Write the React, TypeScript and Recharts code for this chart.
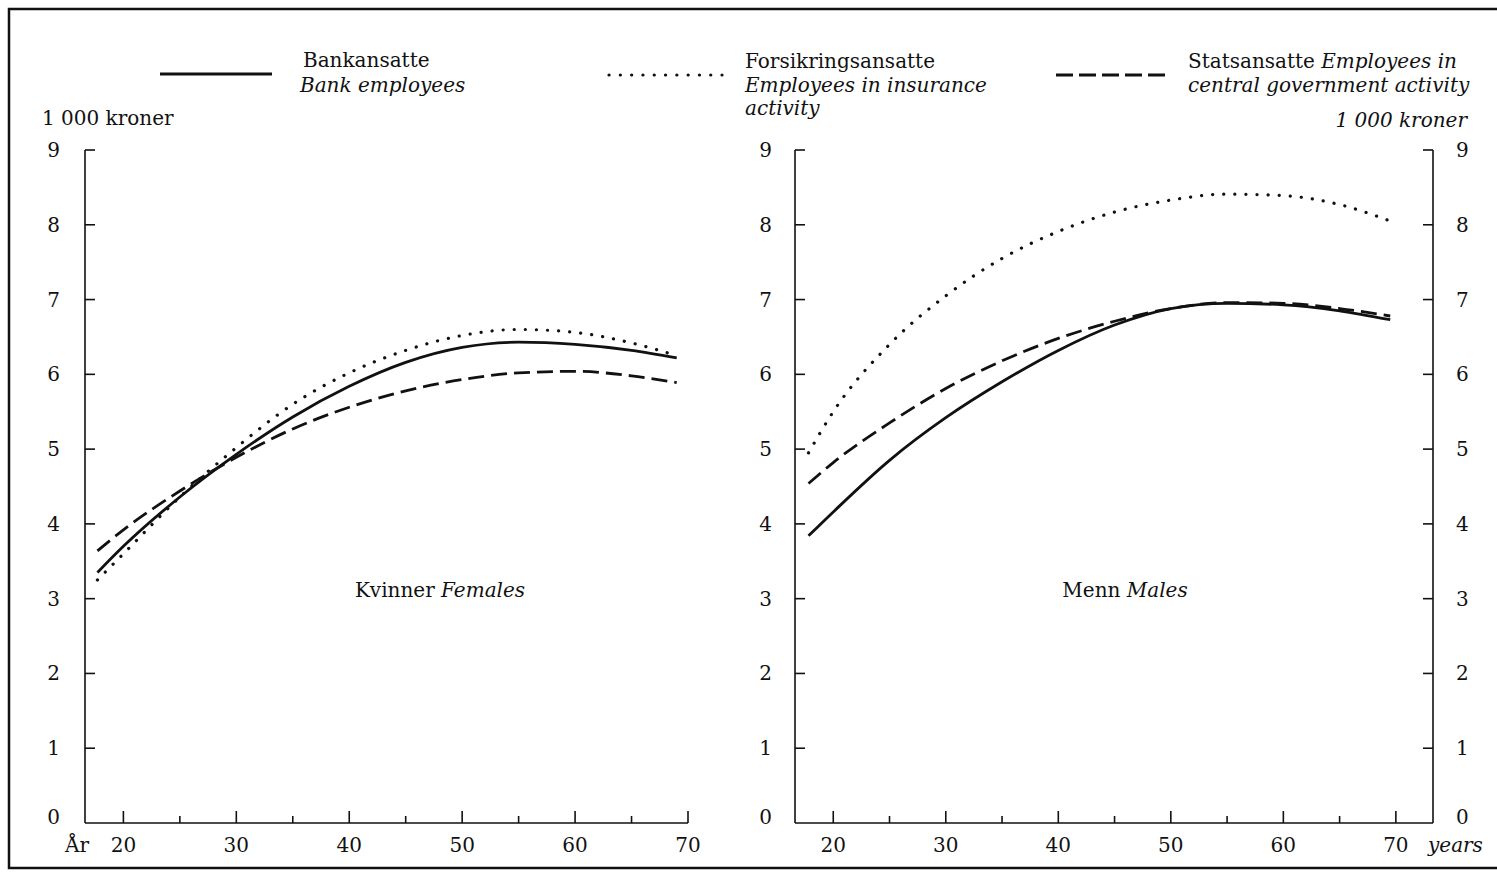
import React from "react";
import { LineChart, Line, XAxis, YAxis } from "recharts";

// Age points (years)
const femaleAges = [17.7, 20, 25, 30, 35, 40, 45, 50, 55, 60, 65, 69];
const maleAges = [17.8, 20, 25, 30, 35, 40, 45, 50, 55, 60, 65, 69.5];

// Kvinner / Females, 1 000 kroner
const femaleBank = [3.35, 3.7, 4.36, 4.93, 5.43, 5.84, 6.16, 6.36, 6.43, 6.4, 6.32, 6.22];
const femaleInsurance = [3.25, 3.6, 4.36, 5.02, 5.6, 6.02, 6.32, 6.52, 6.6, 6.56, 6.42, 6.25];
const femaleState = [3.64, 3.92, 4.44, 4.89, 5.27, 5.56, 5.78, 5.93, 6.02, 6.04, 5.98, 5.89];

// Menn / Males, 1 000 kroner
const maleBank = [3.84, 4.16, 4.85, 5.42, 5.9, 6.32, 6.66, 6.88, 6.95, 6.93, 6.85, 6.73];
const maleInsurance = [4.95, 5.5, 6.4, 7.05, 7.55, 7.91, 8.17, 8.33, 8.41, 8.39, 8.27, 8.05];
const maleState = [4.54, 4.82, 5.35, 5.81, 6.18, 6.48, 6.71, 6.88, 6.96, 6.95, 6.88, 6.78];

const xTicks = [20, 25, 30, 35, 40, 45, 50, 55, 60, 65, 70];
const yTicks = [0, 1, 2, 3, 4, 5, 6, 7, 8, 9];

const FONT = "DejaVu Serif";
const INK = "#111";
const FS = 20;

const femaleData = femaleAges.map((a, i) => ({
  age: a,
  bank: femaleBank[i],
  insurance: femaleInsurance[i],
  state: femaleState[i],
}));
const maleData = maleAges.map((a, i) => ({
  age: a,
  bank: maleBank[i],
  insurance: maleInsurance[i],
  state: maleState[i],
}));

const XTick = (props: any) => {
  const { x, y, payload } = props;
  const major = payload.value % 10 === 0;
  return (
    <g>
      <line x1={x} x2={x} y1={y} y2={y - (major ? 12 : 7)} stroke={INK} strokeWidth={1.6} />
      {major && (
        <text x={x} y={y + 29} textAnchor="middle" fontSize={FS} fontFamily={FONT} fill={INK}>
          {payload.value}
        </text>
      )}
    </g>
  );
};

const makeYTick = (side: "left" | "right", gap: number) => (props: any) => {
  const { x, y, payload } = props;
  const dir = side === "left" ? 1 : -1;
  return (
    <g>
      {payload.value !== 0 && (
        <line x1={x} x2={x + dir * 10} y1={y} y2={y} stroke={INK} strokeWidth={1.6} />
      )}
      <text
        x={side === "left" ? x - gap : x + gap}
        y={y + (payload.value === 0 ? 1 : 7)}
        textAnchor={side === "left" ? "end" : "start"}
        fontSize={FS}
        fontFamily={FONT}
        fill={INK}
      >
        {payload.value}
      </text>
    </g>
  );
};

const axisLine = { stroke: INK, strokeWidth: 1.6 };

const lineProps = { type: "monotone" as const, stroke: INK, dot: false, isAnimationActive: false };

export default function App() {
  return (
    <div
      style={{
        position: "absolute",
        left: 0,
        top: 0,
        width: 1497,
        height: 872,
        background: "#fff",
        fontFamily: FONT,
        overflow: "hidden",
      }}
    >
      {/* Kvinner / Females */}
      <div style={{ position: "absolute", left: 0, top: 0 }}>
        <LineChart width={740} height={872} data={femaleData} margin={{ top: 150, right: 52, bottom: 19, left: 25 }}>
          <XAxis
            dataKey="age"
            type="number"
            domain={[16.6, 70]}
            ticks={xTicks}
            interval={0}
            height={30}
            tickSize={0}
            tickMargin={0}
            tickLine={false}
            axisLine={axisLine}
            tick={<XTick />}
          />
          <YAxis
            domain={[0, 9]}
            ticks={yTicks}
            interval={0}
            width={60}
            tickSize={0}
            tickMargin={0}
            tickLine={false}
            axisLine={axisLine}
            tick={makeYTick("left", 25)}
          />
          <Line {...lineProps} dataKey="bank" strokeWidth={2.8} />
          <Line {...lineProps} dataKey="insurance" strokeWidth={3.2} strokeDasharray="0.1 11" strokeLinecap="round" />
          <Line {...lineProps} dataKey="state" strokeWidth={2.8} strokeDasharray="16 7" />
        </LineChart>
      </div>

      {/* Menn / Males */}
      <div style={{ position: "absolute", left: 740, top: 0 }}>
        <LineChart width={757} height={872} data={maleData} margin={{ top: 150, right: 4, bottom: 19, left: 15 }}>
          <XAxis
            dataKey="age"
            type="number"
            domain={[16.6, 73.3]}
            ticks={xTicks}
            interval={0}
            height={30}
            tickSize={0}
            tickMargin={0}
            tickLine={false}
            axisLine={axisLine}
            tick={<XTick />}
          />
          <YAxis
            yAxisId="left"
            domain={[0, 9]}
            ticks={yTicks}
            interval={0}
            width={40}
            tickSize={0}
            tickMargin={0}
            tickLine={false}
            axisLine={axisLine}
            tick={makeYTick("left", 23)}
          />
          <YAxis
            yAxisId="right"
            orientation="right"
            domain={[0, 9]}
            ticks={yTicks}
            interval={0}
            width={60}
            tickSize={0}
            tickMargin={0}
            tickLine={false}
            axisLine={axisLine}
            tick={makeYTick("right", 23)}
          />
          <Line {...lineProps} yAxisId="left" dataKey="bank" strokeWidth={2.8} />
          <Line {...lineProps} yAxisId="left" dataKey="insurance" strokeWidth={3.2} strokeDasharray="0.1 11" strokeLinecap="round" />
          {/* same 0–9 scale on both axes, so this series can sit on the right one */}
          <Line {...lineProps} yAxisId="right" dataKey="state" strokeWidth={2.8} strokeDasharray="16 7" />
        </LineChart>
      </div>

      {/* frame, legend and captions */}
      <svg
        width={1497}
        height={872}
        style={{ position: "absolute", left: 0, top: 0, pointerEvents: "none" }}
        fontFamily={FONT}
        fill={INK}
        fontSize={FS}
      >
        <path d="M1497 9 L9 9 L9 868 L1497 868" fill="none" stroke={INK} strokeWidth={2.5} />

        <line x1={160} x2={272} y1={74} y2={74} stroke={INK} strokeWidth={3} />
        <text x={303} y={67}>Bankansatte</text>
        <text x={300} y={92} fontStyle="italic">Bank employees</text>

        <line x1={609} x2={722} y1={75} y2={75} stroke={INK} strokeWidth={3.2} strokeDasharray="0.1 11.2" strokeLinecap="round" />
        <text x={745} y={68}>Forsikringsansatte</text>
        <text x={745} y={92} fontStyle="italic">Employees in insurance</text>
        <text x={745} y={115} fontStyle="italic">activity</text>

        <line x1={1056} x2={1168} y1={75} y2={75} stroke={INK} strokeWidth={3} strokeDasharray="17 6" />
        <text x={1188} y={68}>
          Statsansatte <tspan fontStyle="italic">Employees in</tspan>
        </text>
        <text x={1188} y={92} fontStyle="italic">central government activity</text>

        <text x={42} y={125}>1 000 kroner</text>
        <text x={1467} y={127} fontStyle="italic" textAnchor="end">1 000 kroner</text>

        <text x={440} y={597} textAnchor="middle">
          Kvinner <tspan fontStyle="italic">Females</tspan>
        </text>
        <text x={1125} y={597} textAnchor="middle">
          Menn <tspan fontStyle="italic">Males</tspan>
        </text>

        <text x={65} y={852}>År</text>
        <text x={1428} y={852} fontStyle="italic">years</text>
      </svg>
    </div>
  );
}
